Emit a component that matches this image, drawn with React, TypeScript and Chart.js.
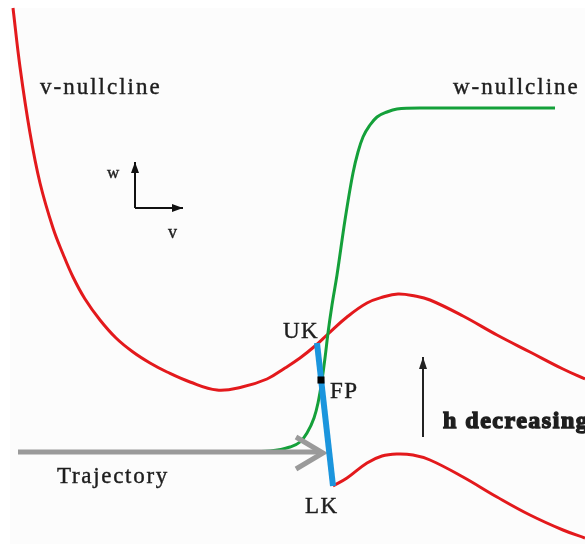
import React, { useEffect, useRef } from "react";
import { Chart, registerables } from "chart.js";
Chart.register(...registerables);

// v-nullcline (upper branch)
const upperV = [1.3, 2.0, 3.0, 4.0, 5.3, 6.3, 7.3, 8.5, 10.0, 11.6, 13.3, 15.0, 16.7, 19.0, 21.7, 24.2, 26.7, 28.5, 30.0, 31.5, 32.8, 34.7, 36.7, 38.3, 39.8, 41.5, 43.0, 46.3, 49.7, 53.0, 56.3, 58.5];
const upperW = [53.6, 47.7, 41.1, 36.1, 31.6, 29.0, 26.7, 24.5, 22.4, 20.6, 19.2, 18.1, 17.2, 16.2, 15.4, 15.7, 16.5, 17.6, 18.6, 19.8, 21.0, 22.7, 24.1, 24.7, 25.0, 24.8, 24.4, 22.8, 20.9, 19.2, 17.5, 16.5];
// v-nullcline (lower branch, after LK)
const lowerV = [33.3, 34.7, 36.7, 38.2, 39.7, 41.3, 43.0, 46.3, 49.7, 53.0, 56.3, 58.5];
const lowerW = [5.8, 6.6, 8.1, 8.8, 9.0, 8.9, 8.4, 6.7, 4.7, 2.9, 1.4, 0.6];
// w-nullcline
const greenV = [24.0, 27.0, 29.0, 30.0, 30.7, 31.4, 31.8, 32.2, 32.5, 32.8, 33.2, 33.7, 34.5, 35.3, 35.8, 36.3, 37.0, 37.7, 38.7, 39.7, 42.0, 55.5];
const greenW = [9.2, 9.3, 9.7, 10.2, 11.1, 12.6, 14.1, 16.4, 18.6, 21.1, 23.9, 26.9, 32.4, 37.1, 39.2, 40.7, 41.9, 42.7, 43.2, 43.5, 43.6, 43.6];
// UK -> LK segment
const kneeV = [31.7, 33.3];
const kneeW = [20.1, 5.8];
// fixed point
const fpV = [32.1];
const fpW = [16.4];
// trajectory
const trajV = [1.8, 32.0];
const trajW = [9.2, 9.2];
const trajHeadV = [29.6, 32.3, 29.6];
const trajHeadW = [10.7, 9.1, 7.5];
// axis glyph
const axWV = [13.5, 13.5];
const axWW = [33.6, 38.2];
const axVV = [13.5, 18.3];
const axVW = [33.6, 33.6];
// h decreasing arrow
const hV = [42.3, 42.3];
const hW = [10.7, 18.7];

const labels = [
  { text: "v-nullcline", v: 4.0, w: 45.0, font: "23px 'Liberation Serif'", ls: 2 },
  { text: "w-nullcline", v: 45.3, w: 45.0, font: "23px 'Liberation Serif'", ls: 2 },
  { text: "w", v: 10.7, w: 36.6, font: "17px 'Liberation Serif'", ls: 0 },
  { text: "v", v: 16.8, w: 30.6, font: "18px 'Liberation Serif'", ls: 0 },
  { text: "UK", v: 28.3, w: 20.6, font: "23px 'Liberation Serif'", ls: 1.5 },
  { text: "FP", v: 33.0, w: 14.6, font: "23px 'Liberation Serif'", ls: 1.5 },
  { text: "LK", v: 30.5, w: 3.1, font: "23px 'Liberation Serif'", ls: 1.5 },
  { text: "Trajectory", v: 5.7, w: 6.1, font: "23px 'Liberation Serif'", ls: 1.7 },
  { text: "h decreasing", v: 44.3, w: 11.6, font: "bold 24px 'Liberation Serif'", ls: 1.5, heavy: true },
];

const pts = (xs: number[], ys: number[]) => xs.map((x, i) => ({ x, y: ys[i] }));

const RED = "#e3191c";
const GREEN = "#14a03a";
const BLUE = "#1b95dd";
const GRAY = "#9a9a9a";
const INK = "#1e1e1e";

export default function App() {
  const ref = useRef<HTMLCanvasElement>(null);
  useEffect(() => {
    document.body.style.margin = "0";
    const canvas = ref.current!;
    const bgPlugin = {
      id: "bg",
      beforeDraw(chart: any) {
        const { ctx, scales } = chart;
        ctx.save();
        ctx.fillStyle = "#ffffff";
        ctx.fillRect(0, 0, chart.width, chart.height);
        const x0 = scales.x.getPixelForValue(1.0);
        const y0 = scales.y.getPixelForValue(53.6);
        ctx.fillStyle = "#fcfcfc";
        ctx.fillRect(x0, y0, chart.width - x0, chart.height - y0);
        ctx.restore();
      },
    };
    const headPlugin = {
      id: "heads",
      afterDatasetsDraw(chart: any) {
        const { ctx } = chart;
        chart.data.datasets.forEach((ds: any, i: number) => {
          if (!ds.head) return;
          const d = chart.getDatasetMeta(i).data;
          const a = d[d.length - 2];
          const b = d[d.length - 1];
          const ang = Math.atan2(b.y - a.y, b.x - a.x);
          const L = ds.head.len;
          const W = ds.head.half;
          ctx.save();
          ctx.fillStyle = ds.borderColor;
          ctx.beginPath();
          ctx.moveTo(b.x, b.y);
          ctx.lineTo(b.x - L * Math.cos(ang) - W * Math.sin(ang), b.y - L * Math.sin(ang) + W * Math.cos(ang));
          ctx.lineTo(b.x - L * Math.cos(ang) + W * Math.sin(ang), b.y - L * Math.sin(ang) - W * Math.cos(ang));
          ctx.closePath();
          ctx.fill();
          ctx.restore();
        });
      },
    };
    const textPlugin = {
      id: "texts",
      afterDraw(chart: any) {
        const { ctx, scales } = chart;
        ctx.save();
        ctx.fillStyle = INK;
        ctx.strokeStyle = INK;
        ctx.textBaseline = "alphabetic";
        ctx.textAlign = "left";
        labels.forEach((l: any) => {
          ctx.font = l.font;
          (ctx as any).letterSpacing = l.ls + "px";
          const x = scales.x.getPixelForValue(l.v);
          const y = scales.y.getPixelForValue(l.w);
          ctx.fillText(l.text, x, y);
          ctx.lineWidth = l.heavy ? 1.4 : 0.4;
          ctx.strokeText(l.text, x, y);
        });
        ctx.restore();
      },
    };
    const line = (data: any, color: string, width: number, extra: any = {}) => ({
      data,
      showLine: true,
      borderColor: color,
      backgroundColor: color,
      borderWidth: width,
      pointRadius: 0,
      fill: false,
      ...extra,
    });
    const chart = new Chart(canvas, {
      type: "scatter",
      data: {
        datasets: [
          {
            data: pts(fpV, fpW),
            pointStyle: "rect",
            pointRadius: 5,
            backgroundColor: "#000",
            borderColor: "#000",
            borderWidth: 0,
            showLine: false,
          } as any,
          line(pts(kneeV, kneeW), BLUE, 6, { tension: 0 }),
          line(pts(trajHeadV, trajHeadW), GRAY, 5, { tension: 0, borderJoinStyle: "miter" }),
          line(pts(trajV, trajW), GRAY, 5, { tension: 0 }),
          line(pts(greenV, greenW), GREEN, 3, { cubicInterpolationMode: "monotone" }),
          line(pts(upperV, upperW), RED, 3, { tension: 0.4 }),
          line(pts(lowerV, lowerW), RED, 3, { tension: 0.4 }),
          line(pts(axWV, axWW), "#111", 2, { tension: 0, head: { len: 11, half: 4 } }),
          line(pts(axVV, axVW), "#111", 2, { tension: 0, head: { len: 11, half: 4 } }),
          line(pts(hV, hW), "#222", 2, { tension: 0, head: { len: 12, half: 4 } }),
        ] as any,
      },
      options: {
        animation: false,
        responsive: false,
        devicePixelRatio: 1,
        layout: { padding: 0, autoPadding: false },
        plugins: { legend: { display: false }, tooltip: { enabled: false } },
        events: [],
        scales: {
          x: { type: "linear", min: 0, max: 58.5, display: false },
          y: { type: "linear", min: 0, max: 54.4, display: false },
        },
      } as any,
      plugins: [bgPlugin, headPlugin, textPlugin],
    });
    return () => chart.destroy();
  }, []);
  return (
    <div style={{ width: 585, height: 544 }}>
      <canvas ref={ref} width={585} height={544} style={{ display: "block", width: 585, height: 544 }} />
    </div>
  );
}
